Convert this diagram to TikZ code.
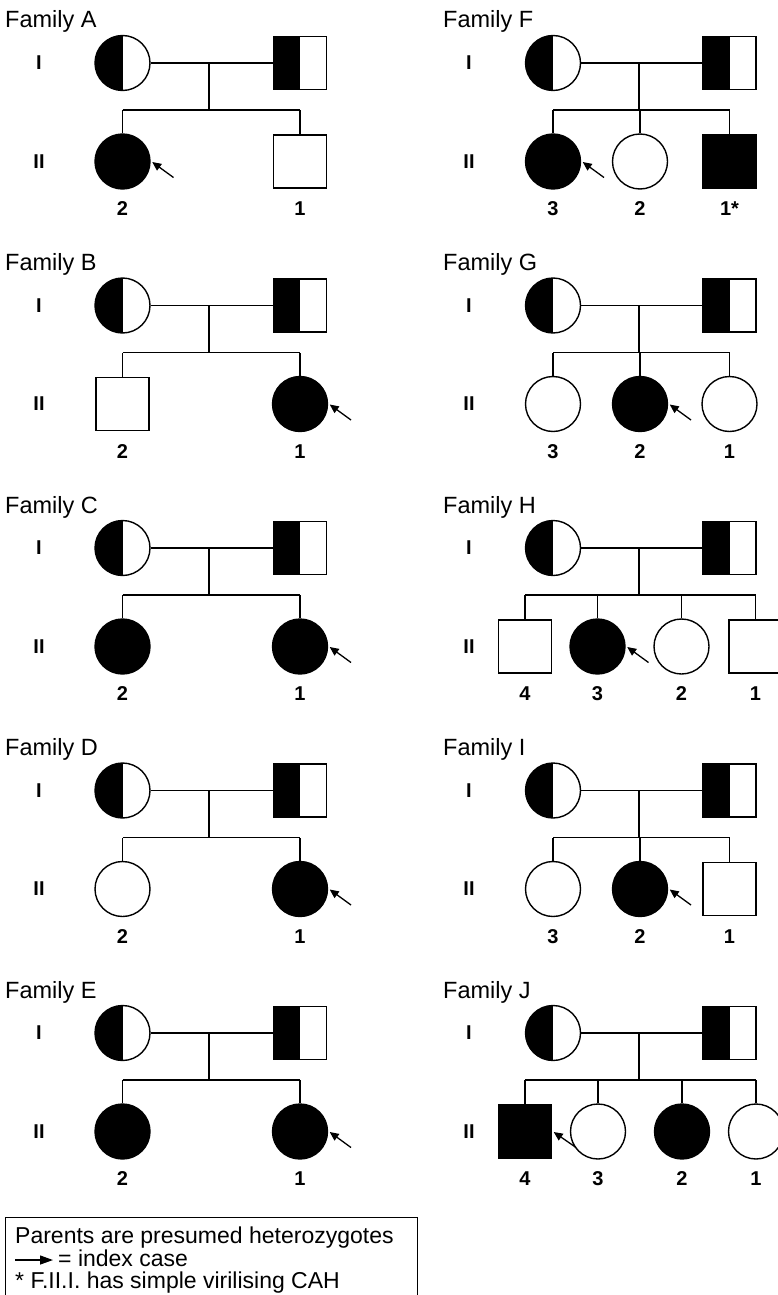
\documentclass[tikz,border=0pt]{standalone}
\usepackage{fontspec}
\setmainfont{Liberation Sans}
\usetikzlibrary{arrows.meta,calc}
\tikzset{
  pline/.style={line width=1.2pt},
  fem/.style={circle,draw,line width=1.4pt,minimum size=55pt,inner sep=0pt},
  mal/.style={rectangle,draw,line width=1.4pt,minimum size=53pt,inner sep=0pt},
  aff/.style={fill=black},
  car/.style={path picture={\fill[black] (path picture bounding box.south west) rectangle (path picture bounding box.north);}},
  ttl/.style={anchor=base west,font=\fontsize{23.5}{26}\selectfont,inner sep=0pt},
  gen/.style={font=\bfseries\fontsize{20}{22}\selectfont,inner sep=0pt},
  num/.style={font=\bfseries\fontsize{20}{22}\selectfont,inner sep=0pt},
  idx/.style={line width=1.3pt,-{Triangle[length=9pt,width=8pt]}},
  legarr/.style={line width=1.3pt,-{Triangle[length=13pt,width=9pt]}},
  legtxt/.style={anchor=base west,font=\fontsize{23}{26}\selectfont,inner sep=0pt},
}
% parents: #1 prefix, #2 title, #3 y0, #4 title x, #5 gen x, #6 mother x, #7 father x, #8 drop x
\newcommand\pedparents[8]{%
  \node[ttl] (#1t) at (#4,#3-35) {#2};
  \node[gen] (#1g1) at (#5,#3) {I};
  \node[gen] (#1g2) at (#5,#3+98.5) {II};
  \node[fem,car] (#1m) at (#6,#3) {};
  \node[mal,car] (#1f) at (#7,#3) {};
  \draw[pline] (#1m) -- (#1f);
  \coordinate (#1d) at (#8,#3);
  \coordinate (#1s) at (#8,#3+47);
  \draw[pline] (#1d) -- (#1s);
}
\newcommand\leftparents[3]{\pedparents{#1}{#2}{#3}{5}{39}{122.5}{300}{209}}
\newcommand\rightparents[3]{\pedparents{#1}{#2}{#3}{443}{469}{553}{729.5}{639}}
% child: #1 name, #2 style, #3 x, #4 y0, #5 label, #6 sibship coordinate
\newcommand\pedchild[6]{%
  \node[#2] (#1) at (#3,#4+98.5) {};
  \node[num] (#1n) at (#3,#4+146) {#5};
  \draw[pline] (#1.north) -- (#1.north |- #6);
}
\newcommand\sibline[3]{\draw[pline] (#1.north |- #3) -- (#2.north |- #3);}
\newcommand\idxarrow[1]{%
  \coordinate (#1a) at ($(#1.center)+(51,16)$);
  \draw[idx] (#1a) -- ($(#1.east)+(1.5,0.5)$);
}
\begin{document}
\begin{tikzpicture}[x=1pt,y=-1pt]
\useasboundingbox (0,0) rectangle (777,1295);
\fill[white] (0,0) rectangle (777,1295);

% ---------- Family A ----------
\leftparents{A}{Family A}{63}
\pedchild{Ac2}{fem,aff}{122.5}{63}{2}{As}
\pedchild{Ac1}{mal}{300}{63}{1}{As}
\sibline{Ac2}{Ac1}{As}
\idxarrow{Ac2}

% ---------- Family B ----------
\leftparents{B}{Family B}{305.5}
\pedchild{Bc2}{mal}{122.5}{305.5}{2}{Bs}
\pedchild{Bc1}{fem,aff}{300}{305.5}{1}{Bs}
\sibline{Bc2}{Bc1}{Bs}
\idxarrow{Bc1}

% ---------- Family C ----------
\leftparents{C}{Family C}{548}
\pedchild{Cc2}{fem,aff}{122.5}{548}{2}{Cs}
\pedchild{Cc1}{fem,aff}{300}{548}{1}{Cs}
\sibline{Cc2}{Cc1}{Cs}
\idxarrow{Cc1}

% ---------- Family D ----------
\leftparents{D}{Family D}{790.5}
\pedchild{Dc2}{fem}{122.5}{790.5}{2}{Ds}
\pedchild{Dc1}{fem,aff}{300}{790.5}{1}{Ds}
\sibline{Dc2}{Dc1}{Ds}
\idxarrow{Dc1}

% ---------- Family E ----------
\leftparents{E}{Family E}{1033}
\pedchild{Ec2}{fem,aff}{122.5}{1033}{2}{Es}
\pedchild{Ec1}{fem,aff}{300}{1033}{1}{Es}
\sibline{Ec2}{Ec1}{Es}
\idxarrow{Ec1}

% ---------- Family F ----------
\rightparents{F}{Family F}{63}
\pedchild{Fc3}{fem,aff}{553}{63}{3}{Fs}
\pedchild{Fc2}{fem}{640}{63}{2}{Fs}
\pedchild{Fc1}{mal,aff}{729.5}{63}{1*}{Fs}
\sibline{Fc3}{Fc1}{Fs}
\idxarrow{Fc3}

% ---------- Family G ----------
\rightparents{G}{Family G}{305.5}
\pedchild{Gc3}{fem}{553}{305.5}{3}{Gs}
\pedchild{Gc2}{fem,aff}{640}{305.5}{2}{Gs}
\pedchild{Gc1}{fem}{729.5}{305.5}{1}{Gs}
\sibline{Gc3}{Gc1}{Gs}
\idxarrow{Gc2}

% ---------- Family H ----------
\rightparents{H}{Family H}{548}
\pedchild{Hc4}{mal}{525}{548}{4}{Hs}
\pedchild{Hc3}{fem,aff}{597.5}{548}{3}{Hs}
\pedchild{Hc2}{fem}{681.5}{548}{2}{Hs}
\pedchild{Hc1}{mal}{755.5}{548}{1}{Hs}
\sibline{Hc4}{Hc1}{Hs}
\idxarrow{Hc3}

% ---------- Family I ----------
\rightparents{I}{Family I}{790.5}
\pedchild{Ic3}{fem}{553}{790.5}{3}{Is}
\pedchild{Ic2}{fem,aff}{640}{790.5}{2}{Is}
\pedchild{Ic1}{mal}{729.5}{790.5}{1}{Is}
\sibline{Ic3}{Ic1}{Is}
\idxarrow{Ic2}

% ---------- Family J ----------
\rightparents{J}{Family J}{1033}
\pedchild{Jc4}{mal,aff}{525}{1033}{4}{Js}
\pedchild{Jc3}{fem}{598}{1033}{3}{Js}
\pedchild{Jc2}{fem,aff}{682}{1033}{2}{Js}
\pedchild{Jc1}{fem}{756}{1033}{1}{Js}
\sibline{Jc4}{Jc1}{Js}
\idxarrow{Jc4}

% ---------- Legend ----------
\node[draw,line width=1.2pt,anchor=north west,minimum width=412pt,minimum height=90pt,inner sep=0pt] (leg) at (5,1217) {};
\node[legtxt] (leg1) at (15,1243) {Parents are presumed heterozygotes};
\coordinate (la1) at (15,1260);
\coordinate (la2) at (53,1260);
\draw[legarr] (la1) -- (la2);
\node[legtxt] (leg2) at (58,1266) {= index case};
\node[legtxt] (leg3) at (15,1288) {* F.II.I. has simple virilising CAH};
\end{tikzpicture}
\end{document}
